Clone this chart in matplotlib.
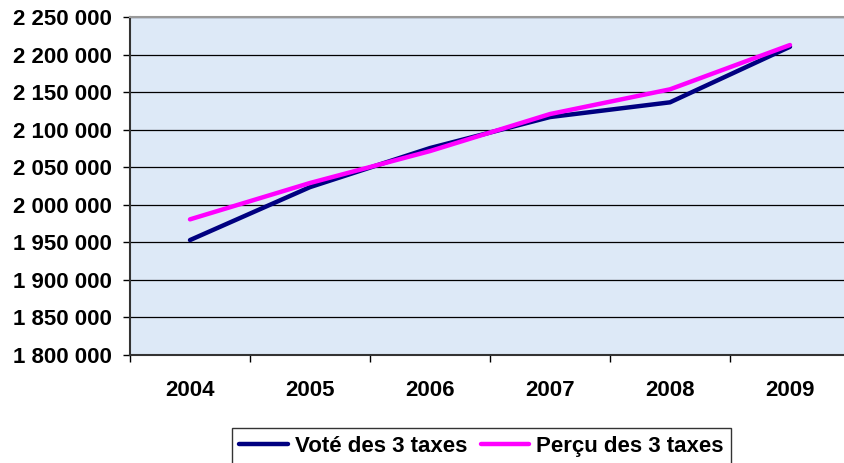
import matplotlib
matplotlib.use("Agg")
import matplotlib.pyplot as plt
from matplotlib.ticker import FuncFormatter, MultipleLocator

years = ["2004", "2005", "2006", "2007", "2008", "2009"]
vote = [1953000, 2023500, 2075500, 2116800, 2136400, 2210400]
percu = [1980600, 2029000, 2071500, 2120800, 2153700, 2212700]
series_labels = ["Voté des 3 taxes", "Perçu des 3 taxes"]

plt.rcParams['font.family'] = ['Liberation Sans', 'DejaVu Sans']
plt.rcParams['font.weight'] = 'bold'

FS = 16

fig = plt.figure(figsize=(8.45, 4.63), dpi=100)
ax = fig.add_axes([130/845, 108/463, 720/845, 338/463])
ax.set_facecolor('#dde9f7')

x = list(range(len(years)))
ax.plot(x, vote, color='#000080', lw=3.2, label=series_labels[0], solid_capstyle='round', zorder=3)
ax.plot(x, percu, color='#ff00ff', lw=3.2, label=series_labels[1], solid_capstyle='round', zorder=4)

ax.set_xlim(-0.5, len(years) - 0.5)
ax.set_ylim(1800000, 2250000)
ax.yaxis.set_major_locator(MultipleLocator(50000))
ax.yaxis.set_major_formatter(FuncFormatter(lambda v, p: f"{int(v):,}".replace(",", " ")))
ax.set_xticks(x)
ax.set_xticklabels(years)
ax.set_xticks([i - 0.5 for i in range(len(years) + 1)], minor=True)
ax.tick_params(axis='x', which='major', length=0, pad=18, labelsize=FS)
ax.tick_params(axis='x', which='minor', length=5, width=1, color='black', direction='out')
ax.tick_params(axis='y', length=5, width=1, color='black', labelsize=FS, pad=8)
for lab in ax.get_xticklabels() + ax.get_yticklabels():
    lab.set_fontweight('bold')

ax.grid(axis='y', color='black', lw=0.9, zorder=1)
ax.set_axisbelow(True)
for s in ['left', 'bottom']:
    ax.spines[s].set_color('#333333')
    ax.spines[s].set_linewidth(1.5)
ax.spines['top'].set_color('#999999')
ax.spines['top'].set_linewidth(1.5)
ax.spines['right'].set_visible(False)

leg = fig.legend(loc='upper center', bbox_to_anchor=(481.5/845, 1 - 428/463), ncol=2,
                 frameon=True, fancybox=False, edgecolor='black', fontsize=FS,
                 handlelength=2.2, handletextpad=0.3, columnspacing=0.6,
                 borderpad=0.35, borderaxespad=0)
leg.get_frame().set_linewidth(1.0)
for t in leg.get_texts():
    t.set_fontweight('bold')

fig.savefig("out.png", dpi=100)
